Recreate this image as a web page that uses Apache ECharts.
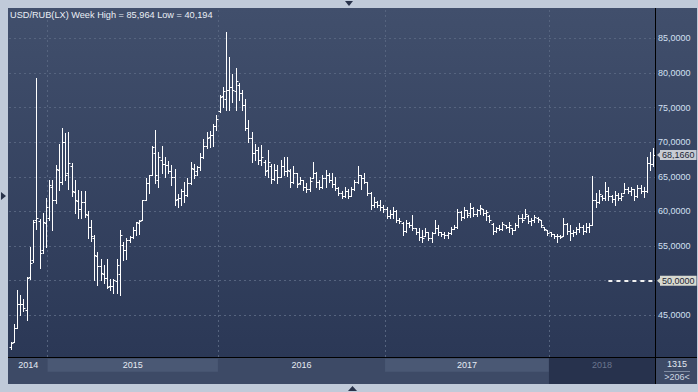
<!DOCTYPE html>
<html>
<head>
<meta charset="utf-8">
<script src="https://cdn.jsdelivr.net/npm/echarts@6/dist/echarts.min.js"></script>
<style>
html,body{margin:0;padding:0;background:#c0cad9;}
#chart{width:698px;height:392px;}
</style>
</head>
<body>
<div id="chart"></div>
<script>
// ---- data (weekly OHLC, USD/RUB) ----
// [year, first ISO-week, last ISO-week] of the weekly bars shown
const yearWeekRanges = [[2014, 41, 52], [2015, 1, 53], [2016, 1, 52], [2017, 2, 52], [2018, 2, 34]];

const opens = [
  40.4, 41.2, 43.2, 46.6, 46.6, 45.8, 50.5, 53.0, 58.8, 58.6,
  54.5, 58.4, 59.0, 63.5, 61.6, 66.0, 64.3, 70.0, 65.5, 66.5,
  62.8, 61.5, 60.4, 61.4, 59.5, 57.8, 56.2, 53.5, 52.1, 51.0,
  50.4, 49.2, 49.2, 50.0, 51.0, 55.1, 54.4, 55.9, 56.3, 57.3,
  58.4, 58.8, 61.7, 64.1, 65.3, 68.5, 64.5, 67.5, 66.9, 66.7,
  65.9, 65.0, 61.8, 61.9, 62.9, 62.4, 64.1, 66.2, 65.8, 66.4,
  67.9, 69.5, 70.7, 71.0, 72.4, 74.5, 76.6, 76.2, 77.6, 78.0,
  77.4, 78.3, 77.1, 75.3, 72.0, 70.6, 68.5, 68.9, 67.5, 67.2,
  66.0, 66.6, 64.7, 66.0, 65.0, 66.5, 65.8, 65.8, 64.2, 65.5,
  64.1, 64.5, 63.5, 63.2, 64.9, 65.5, 64.3, 63.6, 64.9, 65.2,
  64.6, 64.0, 63.4, 62.6, 62.3, 63.0, 62.3, 63.3, 64.2, 65.2,
  64.8, 64.2, 62.7, 61.0, 61.4, 61.0, 60.6, 60.3, 59.4, 59.7,
  60.1, 58.8, 58.4, 57.2, 58.3, 58.0, 57.6, 57.1, 56.3, 56.5,
  57.0, 56.2, 56.9, 57.6, 57.0, 56.7, 56.6, 56.9, 57.5, 57.8,
  59.9, 59.2, 60.2, 59.8, 60.5, 59.6, 60.2, 60.3, 59.8, 59.3,
  58.2, 57.2, 57.6, 57.5, 58.0, 57.7, 57.6, 57.3, 58.0, 59.1,
  59.0, 59.4, 58.6, 58.8, 59.0, 58.8, 57.8, 57.3, 57.0, 56.7,
  56.4, 56.5, 56.4, 58.2, 57.2, 56.9, 57.0, 57.5, 57.7, 57.2,
  57.8, 58.0, 61.6, 61.3, 62.3, 61.9, 63.0, 62.2, 61.8, 62.4,
  62.0, 62.6, 63.3, 62.9, 63.2, 62.3, 63.4, 63.0, 62.9, 67.0,
  66.8
];
const highs = [
  41.2, 43.8, 48.6, 47.9, 47.4, 50.6, 54.9, 58.7, 79.2, 58.9,
  59.8, 61.9, 64.5, 64.5, 66.7, 69.8, 72.0, 71.4, 71.5, 67.0,
  64.6, 63.1, 62.9, 62.9, 60.0, 58.8, 56.6, 54.2, 53.2, 52.3,
  53.2, 50.3, 50.3, 53.2, 57.3, 55.6, 56.1, 56.5, 57.8, 58.5,
  58.8, 61.7, 64.8, 65.3, 69.4, 71.8, 68.6, 69.4, 67.8, 67.3,
  66.7, 66.2, 62.5, 63.3, 64.2, 64.8, 67.2, 66.9, 66.6, 68.4,
  70.5, 71.5, 71.6, 72.7, 73.9, 76.8, 78.0, 85.964, 82.3, 79.9,
  80.7, 78.5, 77.5, 76.3, 73.2, 71.5, 69.8, 69.3, 69.6, 67.4,
  68.9, 66.9, 66.9, 66.7, 67.4, 67.9, 67.9, 66.1, 66.5, 65.6,
  65.0, 64.6, 64.05, 65.0, 67.2, 65.7, 64.5, 65.3, 66.0, 65.5,
  65.5, 65.0, 63.6, 62.9, 63.6, 63.3, 63.6, 64.5, 66.5, 65.3,
  65.5, 64.3, 62.8, 62.1, 61.5, 61.6, 60.9, 60.7, 60.2, 60.7,
  60.2, 59.0, 58.5, 58.8, 58.5, 59.5, 57.6, 57.6, 57.3, 57.6,
  57.1, 57.1, 58.8, 58.0, 57.1, 57.1, 57.1, 57.8, 58.0, 60.4,
  60.0, 60.7, 60.2, 61.2, 60.6, 60.4, 60.9, 60.4, 60.2, 59.5,
  58.3, 57.8, 58.0, 58.5, 58.0, 58.5, 57.6, 58.3, 59.5, 59.7,
  60.4, 59.5, 59.0, 59.5, 59.2, 58.8, 57.8, 57.3, 57.1, 56.8,
  56.8, 56.6, 59.0, 58.3, 58.0, 57.3, 57.8, 58.3, 58.0, 58.3,
  58.3, 65.1, 62.6, 63.1, 62.4, 64.3, 63.6, 62.4, 62.9, 62.6,
  62.6, 64.05, 63.6, 63.6, 63.3, 63.8, 63.8, 63.6, 67.9, 68.6,
  69.1
];
const lows = [
  40.194, 41.2, 43.1, 45.0, 45.6, 44.3, 50.3, 52.7, 57.5, 51.8,
  54.0, 54.9, 58.7, 57.3, 61.2, 63.1, 64.0, 64.5, 63.3, 62.2,
  59.8, 59.0, 59.0, 59.2, 56.1, 55.8, 50.1, 49.4, 50.1, 49.6,
  48.9, 48.7, 48.2, 48.2, 47.9, 53.0, 53.2, 55.6, 56.1, 56.6,
  56.8, 58.8, 61.7, 62.6, 65.3, 64.1, 63.6, 65.6, 65.0, 65.5,
  63.8, 60.9, 60.7, 60.9, 61.4, 62.2, 64.0, 64.8, 65.3, 66.0,
  67.7, 69.1, 69.3, 69.4, 71.8, 74.4, 75.1, 74.6, 74.6, 75.8,
  74.6, 76.1, 74.6, 71.8, 70.1, 67.2, 67.4, 66.9, 66.7, 65.3,
  65.0, 64.1, 64.5, 64.05, 65.0, 65.2, 65.1, 63.6, 64.05, 63.6,
  64.0, 63.1, 62.85, 62.9, 64.8, 63.6, 63.3, 63.4, 63.6, 64.3,
  63.6, 63.1, 62.4, 61.9, 62.1, 61.9, 62.2, 63.1, 64.1, 63.3,
  64.1, 62.4, 60.4, 60.7, 60.7, 60.2, 59.9, 59.0, 59.0, 59.0,
  58.5, 58.3, 56.6, 57.1, 57.8, 57.3, 56.8, 55.9, 55.6, 56.4,
  55.9, 55.6, 56.9, 56.6, 56.4, 56.1, 56.1, 56.8, 57.4, 57.6,
  58.8, 59.0, 59.2, 59.2, 59.4, 59.3, 59.7, 59.5, 58.8, 58.5,
  56.8, 57.1, 57.3, 57.3, 57.6, 57.1, 56.8, 57.3, 57.8, 58.5,
  59.0, 58.3, 58.0, 58.5, 58.5, 57.8, 57.3, 56.6, 56.4, 56.1,
  55.6, 56.1, 56.4, 56.8, 55.9, 56.4, 56.8, 57.1, 56.8, 57.1,
  57.1, 58.0, 60.7, 61.2, 61.7, 61.7, 61.7, 61.4, 60.9, 61.7,
  61.7, 62.6, 62.6, 62.4, 61.7, 62.1, 62.6, 62.1, 62.8, 66.0,
  66.5
];
const closes = [
  41.0, 43.1, 46.7, 46.7, 46.0, 50.4, 52.6, 58.5, 59.0, 54.0,
  58.5, 60.7, 63.8, 61.6, 66.1, 64.2, 70.1, 65.3, 67.0, 63.0,
  61.7, 60.3, 61.4, 59.6, 57.8, 56.4, 53.7, 52.1, 51.1, 50.4,
  49.1, 49.2, 50.1, 52.3, 56.6, 54.4, 55.9, 56.3, 57.3, 58.5,
  58.6, 61.6, 64.1, 65.2, 69.3, 65.3, 67.9, 66.8, 66.7, 65.9,
  65.0, 61.7, 61.9, 62.9, 62.4, 64.1, 66.3, 65.3, 66.4, 67.9,
  69.4, 70.6, 71.0, 72.3, 73.3, 76.5, 77.4, 77.6, 78.0, 77.5,
  78.8, 77.1, 75.3, 72.0, 70.6, 68.5, 68.9, 67.5, 67.8, 65.9,
  67.2, 64.7, 66.0, 65.0, 66.5, 65.8, 66.0, 64.2, 65.5, 64.0,
  64.5, 63.5, 63.2, 64.4, 65.5, 64.3, 63.6, 64.9, 65.2, 64.6,
  64.0, 63.4, 62.6, 62.3, 63.0, 62.3, 63.3, 64.2, 65.2, 64.8,
  64.2, 62.7, 61.0, 61.4, 61.0, 60.6, 60.3, 59.4, 59.7, 60.1,
  58.8, 58.6, 57.2, 58.3, 58.0, 57.6, 57.1, 56.3, 56.1, 57.0,
  56.2, 56.9, 57.6, 57.0, 56.7, 56.6, 56.9, 57.5, 57.8, 59.9,
  59.2, 60.2, 59.5, 60.5, 59.6, 60.2, 60.5, 59.8, 59.9, 58.7,
  57.2, 57.6, 57.5, 58.2, 57.7, 58.1, 57.3, 58.0, 59.1, 58.8,
  59.7, 58.6, 58.8, 59.2, 58.9, 58.0, 57.5, 56.9, 56.7, 56.4,
  56.5, 56.3, 58.2, 57.2, 56.9, 57.0, 57.5, 57.7, 57.2, 57.8,
  58.0, 61.6, 61.3, 62.5, 61.9, 63.0, 62.2, 61.8, 62.4, 62.0,
  62.3, 63.3, 62.9, 63.2, 62.3, 63.4, 63.0, 62.9, 67.0, 66.8,
  68.166
];

const priceTicks = [45, 50, 55, 60, 65, 70, 75, 80, 85];
const alertLevel = 50;
const alertFromWeek = 186;
const footerTop = '1315';
const footerBottom = '>206<';

// ---- build ----
const weekLabels = [];
yearWeekRanges.forEach(([y, a, b]) => {
  for (let w = a; w <= b; w++) weekLabels.push(y + '-W' + String(w).padStart(2, '0'));
});
const N = weekLabels.length;
const bars = weekLabels.map((wk, i) => [i, opens[i], highs[i], lows[i], closes[i]]);

const years = [];
weekLabels.forEach((wk, i) => {
  const y = wk.slice(0, 4);
  const last = years[years.length - 1];
  if (!last || last.year !== y) years.push({ year: y, first: i, last: i });
  else last.last = i;
});

const FONT = "'Liberation Sans', Arial, sans-serif";
const fmt4 = v => v.toFixed(4).replace('.', ',');
const fmt3 = v => v.toFixed(3).replace('.', ',');
const hi = Math.max(...highs);
const lo = Math.min(...lows);
const lastClose = closes[closes.length - 1];
const titleText = 'USD/RUB(LX) Week High = ' + fmt3(hi) + ' Low = ' + fmt3(lo);
// the alert box replaces the axis label at its level
const labelTicks = priceTicks.filter(v => v !== alertLevel);

function renderOHLC(params, api) {
  const i = api.value(0);
  const o = api.coord([i, api.value(1)]);
  const h = api.coord([i, api.value(2)]);
  const l = api.coord([i, api.value(3)]);
  const c = api.coord([i, api.value(4)]);
  const x = Math.round(h[0]) + 0.5;
  const oy = Math.round(o[1]) + 0.5;
  const cy = Math.round(c[1]) + 0.5;
  const style = { stroke: '#ffffff', lineWidth: 1 };
  return {
    type: 'group',
    children: [
      { type: 'line', shape: { x1: x, y1: Math.round(h[1]), x2: x, y2: Math.round(l[1]) + 1 }, style },
      { type: 'line', shape: { x1: x - 2, y1: oy, x2: x, y2: oy }, style },
      { type: 'line', shape: { x1: x, y1: cy, x2: x + 2, y2: cy }, style }
    ]
  };
}

const yearLines = years.slice(1).map(y => ({ xAxis: y.first - 0.5 }));

const priceLabel = (bg) => ({
  show: true, position: 'end', distance: 5,
  color: '#1d2636', backgroundColor: bg, padding: [1, 2, 0, 2],
  fontSize: 9, fontFamily: FONT
});

const bandAreas = [];
years.forEach((y, k) => {
  const isLast = k === years.length - 1;
  const light = !isLast && k % 2 === 1;
  if (isLast) {
    bandAreas.push([
      { xAxis: y.first - 0.5, yAxis: 0, itemStyle: { color: '#27324d' }, label: { show: false } },
      { xAxis: y.last + 0.5, yAxis: 1 }
    ]);
  }
  bandAreas.push([
    {
      xAxis: y.first - 0.5, yAxis: 0.47,
      itemStyle: { color: light ? '#4a5874' : 'rgba(0,0,0,0)' },
      label: {
        show: true, position: 'inside', formatter: y.year,
        color: isLast ? '#6b768d' : '#e6ebf3', fontSize: 9, fontFamily: FONT
      }
    },
    { xAxis: y.last + 0.5, yAxis: 0.97 }
  ]);
});

const gradPanel = () => new echarts.graphic.LinearGradient(0, 0, 0, 1, [
  { offset: 0, color: '#414f6c' }, { offset: 1, color: '#2b3856' }
]);

const leftArrow = 'path://M0,5 L6,0 L6,10 Z';

const chart = echarts.init(document.getElementById('chart'), null, { renderer: 'svg' });
chart.setOption({
  animation: false,
  backgroundColor: '#c0cad9',
  textStyle: { fontFamily: FONT },
  grid: [
    { left: 9, top: 8, width: 646, height: 349 },
    { left: 9, top: 358, width: 646, height: 26 }
  ],
  xAxis: [
    { gridIndex: 0, type: 'value', min: -0.5, max: N - 0.5, show: false },
    { gridIndex: 1, type: 'value', min: -0.5, max: N - 0.5, show: false }
  ],
  yAxis: [
    {
      gridIndex: 0, type: 'value', position: 'right', min: 38.98, max: 89.38,
      axisLine: { show: false },
      axisTick: { show: false, customValues: priceTicks },
      axisLabel: {
        customValues: labelTicks, formatter: v => fmt4(v),
        color: '#d3e0f2', fontSize: 9, fontFamily: FONT, margin: 3
      },
      splitLine: { show: true, lineStyle: { color: '#56647f', type: [2, 3], width: 1 } }
    },
    { gridIndex: 1, type: 'value', min: 0, max: 1, show: false }
  ],
  graphic: [
    { type: 'rect', z: -10, shape: { x: 8, y: 8, width: 647, height: 349 }, style: { fill: gradPanel() } },
    { type: 'rect', z: -10, shape: { x: 656, y: 8, width: 41, height: 349 }, style: { fill: gradPanel() } },
    { type: 'rect', z: -10, shape: { x: 8, y: 358, width: 689, height: 26 }, style: { fill: '#3d4a66' } },
    { type: 'line', z: 20, shape: { x1: 655.5, y1: 8, x2: 655.5, y2: 384 }, style: { stroke: '#000000', lineWidth: 1 } },
    { type: 'line', z: 20, shape: { x1: 8, y1: 357.5, x2: 697, y2: 357.5 }, style: { stroke: '#000000', lineWidth: 1 } },
    { type: 'line', z: 20, shape: { x1: 664, y1: 371.5, x2: 690, y2: 371.5 }, style: { stroke: '#7f8ba2', lineWidth: 1 } },
    {
      type: 'text', z: 30, x: 10, y: 15,
      style: { text: titleText, fill: '#e9eef5', font: "9.2px 'Liberation Sans', Arial, sans-serif",
               align: 'left', verticalAlign: 'middle', textAlign: 'left', textVerticalAlign: 'middle' }
    },
    {
      type: 'text', z: 30, x: 677, y: 364,
      style: { text: footerTop, fill: '#e2e8f1', font: "9px 'Liberation Sans', Arial, sans-serif",
               align: 'center', verticalAlign: 'middle', textAlign: 'center', textVerticalAlign: 'middle' }
    },
    {
      type: 'text', z: 30, x: 677, y: 377,
      style: { text: footerBottom, fill: '#cdd6e3', font: "9px 'Liberation Sans', Arial, sans-serif",
               align: 'center', verticalAlign: 'middle', textAlign: 'center', textVerticalAlign: 'middle' }
    },
    { type: 'polygon', z: 30, shape: { points: [[345, 1], [353, 1], [349, 6]] }, style: { fill: '#28324a' } },
    { type: 'polygon', z: 30, shape: { points: [[1, 192], [1, 200], [6, 196]] }, style: { fill: '#28324a' } },
    { type: 'polygon', z: 30, shape: { points: [[348, 391], [357, 391], [352.5, 386]] }, style: { fill: '#28324a' } }
  ],
  series: [
    {
      type: 'custom',
      xAxisIndex: 0, yAxisIndex: 0,
      renderItem: renderOHLC,
      encode: { x: 0, y: [1, 2, 3, 4] },
      data: bars,
      clip: true,
      silent: true,
      z: 5,
      markLine: {
        silent: true,
        symbol: ['none', 'none'],
        animation: false,
        label: { show: false },
        lineStyle: { color: '#56647f', type: [2, 3], width: 1 },
        data: [
          ...yearLines,
          [
            { xAxis: alertFromWeek, yAxis: alertLevel,
              lineStyle: { color: '#f2f2f2', type: [4, 4], width: 2 },
              label: Object.assign(priceLabel('#d7d9d0'), { formatter: fmt4(alertLevel) }) },
            { xAxis: N - 0.5, yAxis: alertLevel }
          ],
          [
            { xAxis: N - 3, yAxis: lastClose,
              lineStyle: { color: 'rgba(0,0,0,0)', width: 1 },
              label: Object.assign(priceLabel('#c7cbd3'), { formatter: fmt4(lastClose) }) },
            { xAxis: N - 0.5, yAxis: lastClose }
          ]
        ]
      },
      markPoint: {
        silent: true,
        symbol: leftArrow,
        symbolSize: [5, 9],
        symbolKeepAspect: false,
        symbolOffset: [4.5, 0],
        label: { show: false },
        data: [
          { coord: [N - 0.5, alertLevel], itemStyle: { color: '#d7d9d0' } },
          { coord: [N - 0.5, lastClose], itemStyle: { color: '#c7cbd3' } }
        ]
      }
    },
    {
      type: 'line',
      xAxisIndex: 1, yAxisIndex: 1,
      data: [[0, -1]],
      showSymbol: false,
      silent: true,
      lineStyle: { opacity: 0 },
      markArea: { silent: true, data: bandAreas }
    }
  ]
});
</script>
</body>
</html>
